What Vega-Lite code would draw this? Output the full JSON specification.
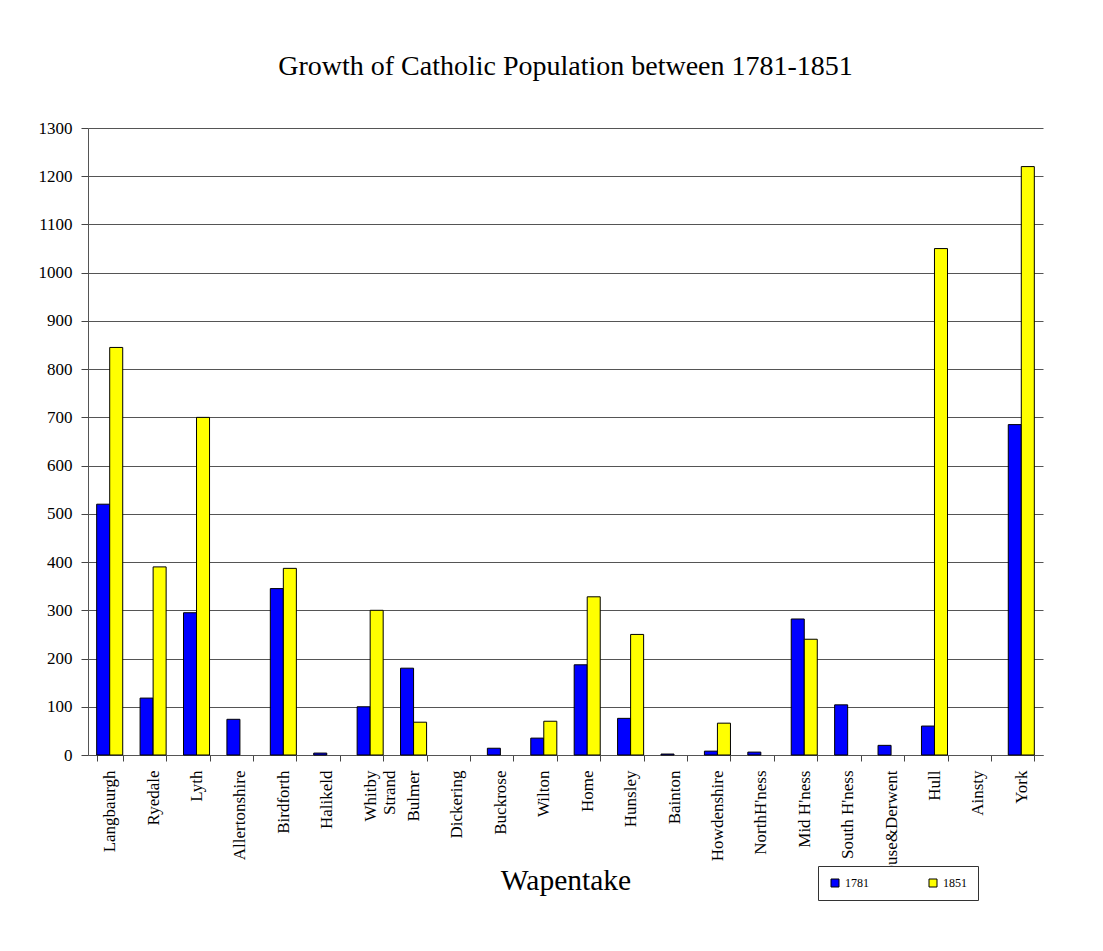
{
  "$schema": "https://vega.github.io/schema/vega-lite/v6.json",
  "autosize": {"type": "none"},
  "width": 955,
  "height": 627,
  "padding": {"left": 88, "top": 128, "right": 60, "bottom": 196},
  "background": "white",
  "title": {
    "text": "Growth of Catholic Population between 1781-1851",
    "font": "Liberation Serif",
    "fontSize": 28,
    "fontWeight": "normal",
    "color": "black",
    "offset": 38,
    "anchor": "middle"
  },
  "data": {
    "values": [
      {"w": "Langbaurgh", "year": "1781", "n": 520}, {"w": "Langbaurgh", "year": "1851", "n": 845},
      {"w": "Ryedale", "year": "1781", "n": 118}, {"w": "Ryedale", "year": "1851", "n": 390},
      {"w": "Lyth", "year": "1781", "n": 295}, {"w": "Lyth", "year": "1851", "n": 700},
      {"w": "Allertonshire", "year": "1781", "n": 74}, {"w": "Allertonshire", "year": "1851", "n": 0},
      {"w": "Birdforth", "year": "1781", "n": 345}, {"w": "Birdforth", "year": "1851", "n": 387},
      {"w": "Halikeld", "year": "1781", "n": 4}, {"w": "Halikeld", "year": "1851", "n": 0},
      {"w": "Whitby Strand", "year": "1781", "n": 100}, {"w": "Whitby Strand", "year": "1851", "n": 300},
      {"w": "Bulmer", "year": "1781", "n": 180}, {"w": "Bulmer", "year": "1851", "n": 68},
      {"w": "Dickering", "year": "1781", "n": 0}, {"w": "Dickering", "year": "1851", "n": 0},
      {"w": "Buckrose", "year": "1781", "n": 14}, {"w": "Buckrose", "year": "1851", "n": 0},
      {"w": "Wilton", "year": "1781", "n": 35}, {"w": "Wilton", "year": "1851", "n": 70},
      {"w": "Home", "year": "1781", "n": 187}, {"w": "Home", "year": "1851", "n": 328},
      {"w": "Hunsley", "year": "1781", "n": 76}, {"w": "Hunsley", "year": "1851", "n": 250},
      {"w": "Bainton", "year": "1781", "n": 2}, {"w": "Bainton", "year": "1851", "n": 0},
      {"w": "Howdenshire", "year": "1781", "n": 8}, {"w": "Howdenshire", "year": "1851", "n": 66},
      {"w": "NorthH'ness", "year": "1781", "n": 6}, {"w": "NorthH'ness", "year": "1851", "n": 0},
      {"w": "Mid H'ness", "year": "1781", "n": 282}, {"w": "Mid H'ness", "year": "1851", "n": 240},
      {"w": "South H'ness", "year": "1781", "n": 104}, {"w": "South H'ness", "year": "1851", "n": 0},
      {"w": "Ouse&Derwent", "year": "1781", "n": 20}, {"w": "Ouse&Derwent", "year": "1851", "n": 0},
      {"w": "Hull", "year": "1781", "n": 60}, {"w": "Hull", "year": "1851", "n": 1050},
      {"w": "Ainsty", "year": "1781", "n": 0}, {"w": "Ainsty", "year": "1851", "n": 0},
      {"w": "York", "year": "1781", "n": 685}, {"w": "York", "year": "1851", "n": 1220}
    ]
  },
  "mark": {"type": "bar", "stroke": "black"},
  "encoding": {
    "x": {
      "field": "w",
      "type": "nominal",
      "sort": null,
      "scale": {"paddingInner": 0.4, "paddingOuter": 0.2},
      "axis": {
        "title": "Wapentake",
        "titleFont": "Liberation Serif",
        "titleFontSize": 29.5,
        "titleFontWeight": "normal",
        "titleColor": "black",
        "titleY": 111,
        "titleBaseline": "top",
        "labelFont": "Liberation Serif",
        "labelFontSize": 17,
        "labelColor": "black",
        "labelAngle": 270,
        "labelPadding": 9,
        "labelLimit": 0,
        "labelExpr": "datum.label == 'Whitby Strand' ? ['Whitby', 'Strand'] : datum.label",
        "tickBand": "extent",
        "tickColor": "#444444",
        "tickSize": 6,
        "domainColor": "#555555",
        "grid": false
      }
    },
    "xOffset": {"field": "year", "type": "nominal", "scale": {"domain": ["1781", "1851"]}},
    "y": {
      "field": "n",
      "type": "quantitative",
      "scale": {"domain": [0, 1300], "nice": false},
      "axis": {
        "title": null,
        "values": [0,100,200,300,400,500,600,700,800,900,1000,1100,1200,1300],
        "format": "d",
        "labelFont": "Liberation Serif",
        "labelFontSize": 17,
        "labelColor": "black",
        "labelPadding": 9,
        "tickColor": "#444444",
        "tickSize": 7,
        "domainColor": "#555555",
        "grid": true,
        "gridColor": "#555555",
        "gridWidth": 1,
        "gridOpacity": 1
      }
    },
    "strokeWidth": {"condition": {"test": "datum.n == 0", "value": 0}, "value": 1},
    "color": {
      "field": "year",
      "type": "nominal",
      "scale": {"domain": ["1781", "1851"], "range": ["#0000FF", "#FFFF00"]},
      "legend": {
        "title": null,
        "orient": "none",
        "legendX": 730,
        "legendY": 738,
        "direction": "horizontal",
        "strokeColor": "#333333",
        "fillColor": "white",
        "padding": 11,
        "columnPadding": 58,
        "symbolType": "square",
        "symbolSize": 64,
        "symbolStrokeColor": "black",
        "symbolStrokeWidth": 1,
        "symbolOpacity": 1,
        "labelFont": "Liberation Serif",
        "labelFontSize": 12,
        "labelColor": "black"
      }
    }
  },
  "config": {
    "view": {"stroke": null}
  }
}
